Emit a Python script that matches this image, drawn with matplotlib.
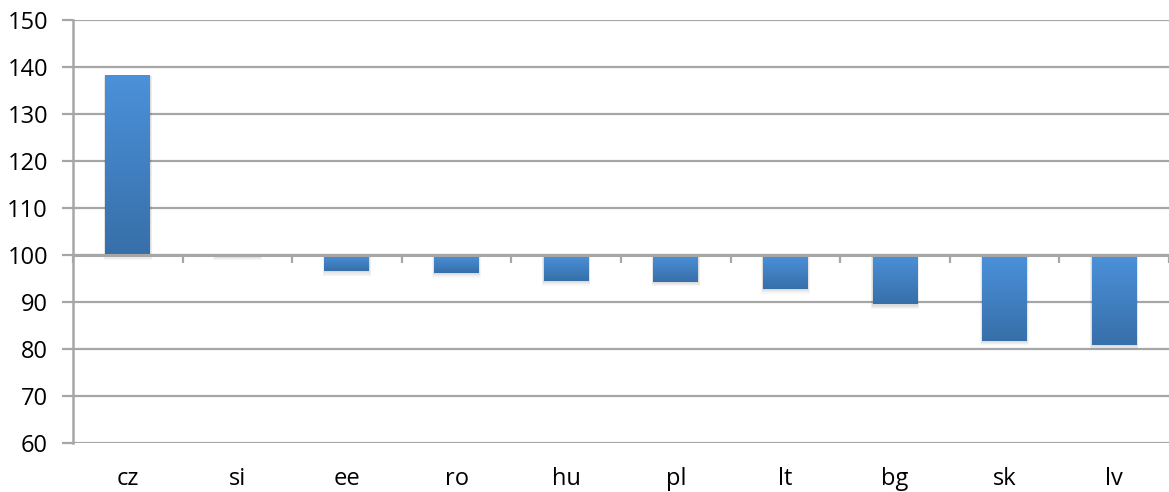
import matplotlib as mpl
import matplotlib.pyplot as plt
import numpy as np
from matplotlib.colors import LinearSegmentedColormap
from matplotlib.patches import Rectangle

# data
countries = ['cz', 'si', 'ee', 'ro', 'hu', 'pl', 'lt', 'bg', 'sk', 'lv']
values = [138.1, 99.9, 96.6, 96.2, 94.5, 94.3, 92.8, 89.5, 81.8, 80.9]
base = 100
y_ticks = [60, 70, 80, 90, 100, 110, 120, 130, 140, 150]

plt.rcParams['font.family'] = ['Open Sans', 'DejaVu Sans']
grid_col = '#a6a6a6'
bar_cmap = LinearSegmentedColormap.from_list('bar', ['#4b91da', '#376fa9'])

fig = plt.figure(figsize=(11.69, 4.92), dpi=100)
ax = fig.add_axes([0.0624, 0.0996, 0.9376, 0.8597])

x = np.arange(len(countries))
width = 0.41
grad = np.linspace(0, 1, 256).reshape(-1, 1)

for xi, v in zip(x, values):
    lo, hi = min(v, base), max(v, base)
    # soft shadow
    for k in range(1, 5):
        ax.add_patch(Rectangle((xi - width / 2 - 0.004 * k, lo - 0.25 * k),
                               width + 0.008 * k, hi - lo + 0.25 * k,
                               facecolor='#000000', alpha=0.035,
                               edgecolor='none', zorder=2))
    ax.imshow(grad, cmap=bar_cmap, aspect='auto', zorder=3,
              extent=(xi - width / 2, xi + width / 2, lo, hi),
              interpolation='bilinear')

ax.set_xlim(-0.5, len(countries) - 0.5)
ax.set_ylim(60, 150)
ax.set_yticks(y_ticks)
ax.yaxis.grid(True, color=grid_col, linewidth=1.6, zorder=1)
ax.set_axisbelow(True)
ax.axhline(base, color=grid_col, linewidth=2.2, zorder=4)

ax.set_xticks(x)
ax.set_xticklabels(countries)
ax.tick_params(axis='x', length=0, pad=17, labelsize=17)
ax.tick_params(axis='y', length=8, width=1.6, color=grid_col, pad=10,
               labelsize=17)

for s in ['top', 'right', 'bottom']:
    ax.spines[s].set_visible(False)
ax.spines['left'].set_color(grid_col)
ax.spines['left'].set_linewidth(1.8)

# tick marks between categories on the 100 line
sec = ax.secondary_xaxis((base - 60) / 90)
sec.set_xticks(np.arange(len(countries) + 1) - 0.5)
sec.set_xticklabels([])
sec.tick_params(length=6, width=1.6, color=grid_col, direction='out')
sec.spines['bottom'].set_visible(False)

fig.savefig('out.png', dpi=100)
